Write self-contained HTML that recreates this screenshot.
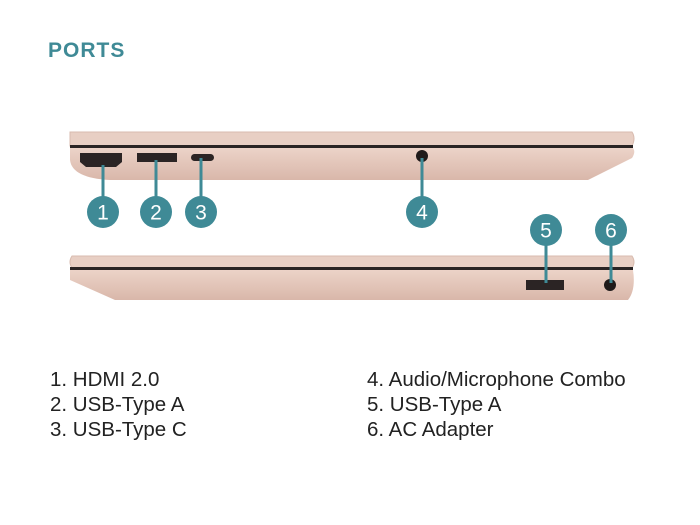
<!DOCTYPE html>
<html><head><style>
body{margin:0;width:700px;height:525px;background:#fff;position:relative;overflow:hidden;font-family:"Liberation Sans",sans-serif}
.t{position:absolute;left:48px;top:39px;font-size:21px;font-weight:bold;color:#3f8a96;letter-spacing:1px}
.l{position:absolute;font-size:20.5px;color:#222;line-height:25px}
</style></head><body>
<div class="t">PORTS</div>
<svg width="700" height="525" style="position:absolute;left:0;top:0">
<defs>
<linearGradient id="g" x1="0" y1="0" x2="0" y2="1"><stop offset="0" stop-color="#ecd3c8"/><stop offset="1" stop-color="#d9b7aa"/></linearGradient>
</defs>
<path d="M70 132 L632 132 Q636 138 632 146 L70 146 Z" fill="#e8cfc4" stroke="#d8bbaf"/>
<rect x="70" y="145" width="563" height="3" fill="#2a2424"/>
<path d="M70 148 L633 148 Q636 152 632 158 L588 180 L110 180 Q72 178 70 160 Z" fill="url(#g)"/>
<path d="M80 153 L122 153 L122 162 L116 167 L86 167 L80 162 Z" fill="#2b2424"/>
<rect x="137" y="153" width="40" height="9" fill="#2b2424"/>
<rect x="191" y="154" width="23" height="7" rx="3.5" fill="#2b2424"/>
<circle cx="422" cy="156" r="6" fill="#1f1a1a"/>
<path d="M72 256 L632 256 Q636 262 632 268 L72 268 Q68 262 72 256 Z" fill="#e8cfc4" stroke="#d8bbaf"/>
<rect x="70" y="267" width="563" height="3" fill="#2a2424"/>
<path d="M70 270 L633 270 Q636 290 628 300 L115 300 L70 280 Z" fill="url(#g)"/>
<rect x="526" y="280" width="38" height="10" fill="#2b2424"/>
<circle cx="610" cy="285" r="6" fill="#1f1a1a"/>
<g stroke="#3f8a96" stroke-width="3">
<line x1="103" y1="165" x2="103" y2="200"/><line x1="156" y1="160" x2="156" y2="200"/>
<line x1="201" y1="158" x2="201" y2="200"/><line x1="422" y1="158" x2="422" y2="200"/>
<line x1="546" y1="244" x2="546" y2="283"/><line x1="611" y1="244" x2="611" y2="283"/>
</g>
<g fill="#3f8a96">
<circle cx="103" cy="212" r="16"/><circle cx="156" cy="212" r="16"/><circle cx="201" cy="212" r="16"/>
<circle cx="422" cy="212" r="16"/><circle cx="546" cy="230" r="16"/><circle cx="611" cy="230" r="16"/>
</g>
<g fill="#fff" font-family="Liberation Sans" font-size="21" text-anchor="middle">
<text x="103" y="219.5">1</text><text x="156" y="219.5">2</text><text x="201" y="219.5">3</text>
<text x="422" y="219.5">4</text><text x="546" y="237.5">5</text><text x="611" y="237.5">6</text>
</g>
</svg>
<div class="l" style="left:50px;top:367px">1. HDMI 2.0<br>2. USB-Type A<br>3. USB-Type C</div>
<div class="l" style="left:367px;top:367px">4. Audio/Microphone Combo<br>5. USB-Type A<br>6. AC Adapter</div>
</body></html>
